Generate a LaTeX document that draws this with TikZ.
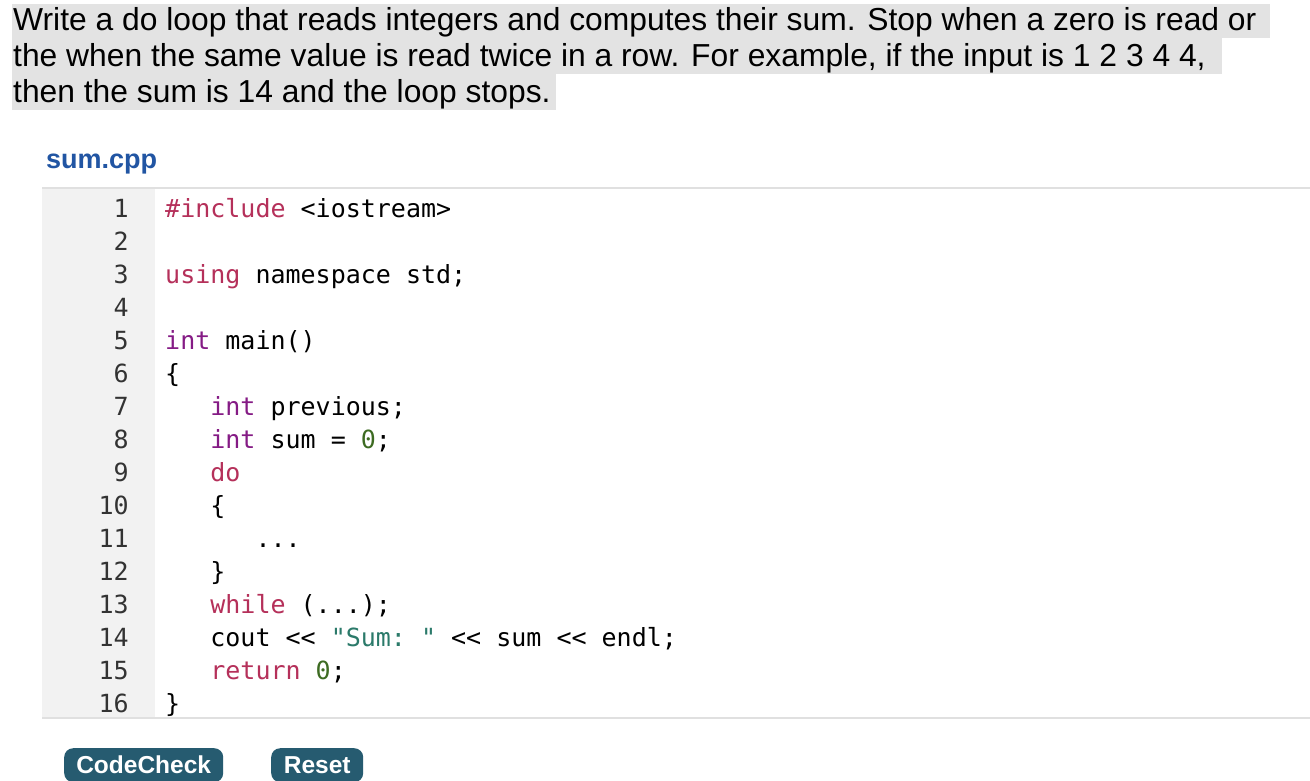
\documentclass[tikz,border=0pt]{standalone}
\usepackage{fontspec}
\setmainfont{Liberation Sans}
\newfontfamily\codefont{DejaVu Sans Mono}
\definecolor{kw}{HTML}{B5305A}
\definecolor{ty}{HTML}{851B85}
\definecolor{nm}{HTML}{3D6B22}
\definecolor{st}{HTML}{2B7A6A}
\definecolor{hl}{HTML}{E3E3E3}
\definecolor{gut}{HTML}{F2F2F2}
\definecolor{btn}{HTML}{265B70}
\definecolor{fname}{HTML}{2155A3}
\begin{document}
\begin{tikzpicture}[x=1pt,y=-1pt,
  prose/.style={anchor=base west,inner sep=0pt,font=\fontsize{31.8}{34}\selectfont},
  code/.style={anchor=base west,inner sep=0pt,font=\codefont\fontsize{25}{30}\selectfont},
  lnum/.style={anchor=base east,inner sep=0pt,font=\codefont\fontsize{25}{30}\selectfont,text=black!80},
  button/.style={fill=btn,rounded corners=9pt,text=white,font=\bfseries\fontsize{24.5}{26}\selectfont,inner sep=0pt,minimum height=34pt,anchor=north west}]
\useasboundingbox (0,0) rectangle (1310,780);
\fill[white] (0,0) rectangle (1310,780);
% highlighted prose
\fill[hl] (12,4) rectangle (1270,38);
\fill[hl] (12,38) rectangle (1222,74);
\fill[hl] (12,74) rectangle (556,110);
\node[prose] (p1) at (13,30) {Write a do loop that reads integers and computes their sum. Stop when a zero is read or};
\node[prose] (p2) at (13,66) {the when the same value is read twice in a row. For example, if the input is 1 2 3 4 4,};
\node[prose] (p3) at (13,102) {then the sum is 14 and the loop stops.};
\node[anchor=base west,inner sep=0pt,text=fname,font=\bfseries\fontsize{27}{29}\selectfont] (fn) at (46,168) {sum.cpp};
% code box
\fill[gut] (42,188) rectangle (155,718);
\draw[black!12,line width=1.5pt] (42,188) -- (1310,188);
\draw[black!12,line width=1.5pt] (42,718) -- (1310,718);
\foreach \n in {1,...,16} {
  \node[lnum] (n\n) at (129,{217+33*(\n-1)}) {\n};
}
\def\cx{165}
\node[code] (c1) at (\cx,217) {\textcolor{kw}{\#include} <iostream>};
\node[code] (c3) at (\cx,283) {\textcolor{kw}{using} namespace std;};
\node[code] (c5) at (\cx,349) {\textcolor{ty}{int} main()};
\node[code] (c6) at (\cx,382) {\{};
\node[code] (c7) at (\cx,415) {\ \ \ \textcolor{ty}{int} previous;};
\node[code] (c8) at (\cx,448) {\ \ \ \textcolor{ty}{int} sum = \textcolor{nm}{0};};
\node[code] (c9) at (\cx,481) {\ \ \ \textcolor{kw}{do}};
\node[code] (c10) at (\cx,514) {\ \ \ \{};
\node[code] (c11) at (\cx,547) {\ \ \ \ \ \ ...};
\node[code] (c12) at (\cx,580) {\ \ \ \}};
\node[code] (c13) at (\cx,613) {\ \ \ \textcolor{kw}{while} (...);};
\node[code] (c14) at (\cx,646) {\ \ \ cout << \textcolor{st}{"Sum:\ "} << sum << endl;};
\node[code] (c15) at (\cx,679) {\ \ \ \textcolor{kw}{return} \textcolor{nm}{0};};
\node[code] (c16) at (\cx,712) {\}};
% buttons
\node[button,minimum width=159pt] (cc) at (64,748) {CodeCheck};
\node[button,minimum width=92pt] (rs) at (271,748) {Reset};
\end{tikzpicture}
\end{document}
